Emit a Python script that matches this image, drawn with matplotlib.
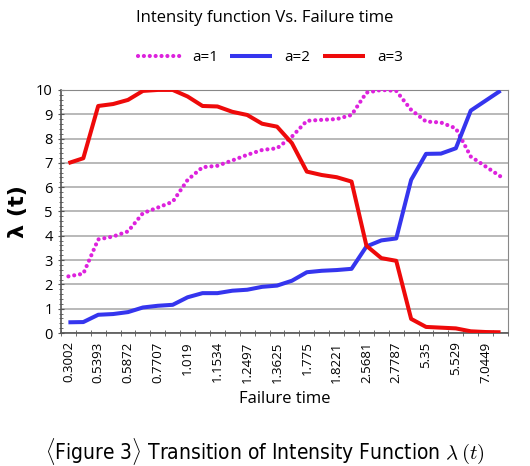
import numpy as np
import matplotlib
matplotlib.use('Agg')
import matplotlib.pyplot as plt
from matplotlib.ticker import MultipleLocator, FixedLocator

# ---- data ----
tick_labels = ['0.3002', '0.5393', '0.5872', '0.7707', '1.019', '1.1534', '1.2497',
               '1.3625', '1.775', '1.8221', '2.5681', '2.7787', '5.35', '5.529', '7.0449']

a1 = [2.33, 2.44, 3.85, 3.97, 4.18, 4.93, 5.16, 5.40, 6.30, 6.82,
      6.88, 7.10, 7.33, 7.53, 7.60, 8.08, 8.73, 8.77, 8.80, 8.97,
      9.89, 10.0, 9.96, 9.18, 8.70, 8.66, 8.42, 7.26, 6.85, 6.44]
a2 = [0.44, 0.45, 0.75, 0.78, 0.86, 1.05, 1.12, 1.16, 1.47, 1.64,
      1.64, 1.74, 1.78, 1.90, 1.95, 2.15, 2.50, 2.56, 2.59, 2.64,
      3.56, 3.81, 3.89, 6.30, 7.37, 7.38, 7.60, 9.15, 9.56, 9.97]
a3 = [6.99, 7.19, 9.34, 9.42, 9.59, 9.96, 10.0, 10.0, 9.73, 9.34,
      9.32, 9.10, 8.97, 8.61, 8.49, 7.81, 6.64, 6.50, 6.41, 6.23,
      3.59, 3.08, 2.97, 0.58, 0.25, 0.22, 0.19, 0.07, 0.04, 0.03]

x = np.arange(len(a1))

plt.rcParams['mathtext.fontset'] = 'cm'

fig = plt.figure(figsize=(5.3, 4.66), dpi=100)
ax = fig.add_axes([0.115, 0.2854, 0.8435, 0.5216])

ax.plot(x, a1, color='#DD22DD', lw=3.0, linestyle=(0, (0.01, 1.4)),
        dash_capstyle='round', label='a=1', zorder=3)
ax.plot(x, a2, color='#3535EE', lw=2.9, label='a=2', zorder=3, solid_capstyle='butt')
ax.plot(x, a3, color='#EE0A0A', lw=2.9, label='a=3', zorder=3, solid_capstyle='butt')

ax.set_xlim(-0.5, len(a1) - 0.5)
ax.set_ylim(0, 10)
ax.yaxis.set_major_locator(MultipleLocator(1))
ax.yaxis.set_minor_locator(MultipleLocator(0.2))
ax.grid(axis='y', which='major', color='#A6A6A6', lw=1.1)
ax.set_axisbelow(True)

ax.set_xticks(x[::2])
ax.set_xticklabels(tick_labels, rotation=90, fontsize=9.5, fontfamily='Open Sans')
ax.xaxis.set_minor_locator(FixedLocator(np.arange(-0.5, len(a1), 1)))
ax.tick_params(axis='x', which='major', length=0, pad=6)
ax.tick_params(axis='x', which='minor', length=4, direction='inout', color='#555555')
ax.tick_params(axis='y', which='major', length=5, direction='inout', color='#555555',
               labelsize=10.5)
ax.tick_params(axis='y', which='minor', length=3, direction='inout', color='#555555')
for t in ax.get_yticklabels():
    t.set_fontfamily('Open Sans')

for s in ['top', 'right']:
    ax.spines[s].set_color('#888888')
for s in ['left', 'bottom']:
    ax.spines[s].set_color('#555555')
ax.spines['left'].set_linewidth(1.2)
ax.spines['bottom'].set_linewidth(1.2)

ax.set_ylabel('λ (t)', fontsize=16, fontweight='bold', fontfamily='DejaVu Sans', labelpad=6)
ax.set_xlabel('Failure time', fontsize=12, fontfamily='Open Sans', labelpad=6)

fig.text(0.5, 0.961, 'Intensity function Vs. Failure time', ha='center', va='center',
         fontsize=12, fontfamily='Open Sans')
fig.legend(loc='center', bbox_to_anchor=(0.51, 0.876), ncol=3, frameon=False,
           handlelength=2.75, columnspacing=0.8, handletextpad=0.8,
           prop={'family': 'Open Sans', 'size': 11})

fig.text(0.5, 0.03,
         '$\\langle$Figure 3$\\rangle$ Transition of Intensity Function $\\lambda\\,(t)$',
         ha='center', va='center', fontsize=15, fontstretch='condensed',
         family='DejaVu Sans')

fig.savefig('out.png', dpi=100)
